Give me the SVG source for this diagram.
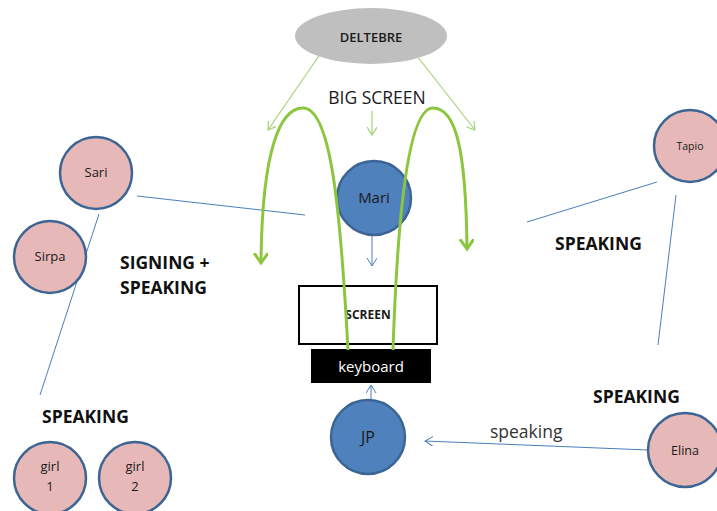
<svg xmlns="http://www.w3.org/2000/svg" width="717" height="511" viewBox="0 0 717 511">
<style>
.pink{fill:#e6b9b8;stroke:#3c6494;stroke-width:2.5}
.blue{fill:#4f81bd;stroke:#3c6494;stroke-width:2.5}
.t{font-family:"Open Sans","Liberation Sans",sans-serif;fill:#1a1a1a;text-anchor:middle}
.lbl{font-family:"Open Sans","Liberation Sans",sans-serif;font-weight:bold;font-size:17.5px;fill:#111}
.thin{stroke:#4a7ebb;stroke-width:1;fill:none}
.lg{stroke:#a6d27a;stroke-width:1.2;fill:none}
.big{stroke:#8cc63f;stroke-width:3;fill:none}
</style>
<defs>
<marker id="ab" markerWidth="12" markerHeight="12" refX="8" refY="5" orient="auto" markerUnits="userSpaceOnUse">
<path d="M0,0 L8,5 L0,10" fill="none" stroke="#4a7ebb" stroke-width="1"/>
</marker>
<marker id="ag" markerWidth="12" markerHeight="12" refX="8" refY="5" orient="auto" markerUnits="userSpaceOnUse">
<path d="M0,0 L8,5 L0,10" fill="none" stroke="#a6d27a" stroke-width="1.2"/>
</marker>
<marker id="aG" markerWidth="16" markerHeight="16" refX="10" refY="7" orient="auto" markerUnits="userSpaceOnUse">
<path d="M0,0 L10,7 L0,14" fill="none" stroke="#8cc63f" stroke-width="3"/>
</marker>
</defs>
<rect width="717" height="511" fill="#fff"/>
<g id="connectors">
<line class="lg" x1="325" y1="47" x2="268" y2="130" marker-end="url(#ag)"/>
<line class="lg" x1="410" y1="47" x2="475" y2="130" marker-end="url(#ag)"/>
<line class="lg" x1="372" y1="111" x2="372" y2="135" marker-end="url(#ag)"/>
<line class="thin" x1="137" y1="196" x2="305" y2="215"/>
<line class="thin" x1="99" y1="214" x2="40" y2="395"/>
<line class="thin" x1="372" y1="236" x2="372" y2="266" marker-end="url(#ab)"/>
<line class="thin" x1="657" y1="182" x2="527" y2="222"/>
<line class="thin" x1="676" y1="195" x2="658" y2="345"/>
<line class="thin" x1="371" y1="400" x2="371" y2="385" marker-end="url(#ab)"/>
<line class="thin" x1="648" y1="450" x2="425" y2="441" marker-end="url(#ab)"/>
</g>
<g id="deltebre">
<ellipse cx="371" cy="36" rx="76" ry="28" fill="#bfbfbf"/>
<text class="t" x="371" y="42" font-size="13" font-weight="600">DELTEBRE</text>
</g>
<g id="bigscreen-label"><text class="t" x="377" y="104" font-size="17.5">BIG SCREEN</text></g>
<g id="sari"><circle class="pink" cx="96" cy="173" r="36"/><text class="t" x="96" y="177" font-size="13">Sari</text></g>
<g id="sirpa"><circle class="pink" cx="50" cy="257" r="36"/><text class="t" x="50" y="261" font-size="13">Sirpa</text></g>
<g id="mari"><circle class="blue" cx="374" cy="198" r="37"/><text class="t" x="374" y="203" font-size="15">Mari</text></g>
<g id="screen"><rect x="299" y="286" width="138" height="58" fill="#fff" stroke="#000" stroke-width="2"/><text class="t" x="368" y="319" font-size="12" font-weight="bold">SCREEN</text></g>
<g id="keyboard"><rect x="311" y="349" width="120" height="34" fill="#000"/><text class="t" x="371" y="372" font-size="15" style="fill:#fff">keyboard</text></g>
<g id="tapio"><circle class="pink" cx="690" cy="146" r="36"/><text class="t" x="690" y="150" font-size="10.5">Tapio</text></g>
<g id="jp"><circle class="blue" cx="368" cy="437" r="37"/><text class="t" x="368" y="443" font-size="16">JP</text></g>
<g id="elina"><circle class="pink" cx="685" cy="450" r="37"/><text class="t" x="685" y="455" font-size="12.5">Elina</text></g>
<g id="girl1"><circle class="pink" cx="50" cy="478" r="36"/><text class="t" x="50" y="471" font-size="13">girl</text><text class="t" x="50" y="491" font-size="13">1</text></g>
<g id="girl2"><circle class="pink" cx="135" cy="478" r="36"/><text class="t" x="135" y="471" font-size="13">girl</text><text class="t" x="135" y="491" font-size="13">2</text></g>
<g id="labels">
<text class="lbl" x="120" y="269">SIGNING +</text>
<text class="lbl" x="120" y="294">SPEAKING</text>
<text class="lbl" x="555" y="250">SPEAKING</text>
<text class="lbl" x="593" y="403">SPEAKING</text>
<text class="lbl" x="42" y="423">SPEAKING</text>
<text x="490" y="438" font-family="Open Sans, Liberation Sans, sans-serif" font-size="17.5" fill="#333">speaking</text>
</g>
<g id="arcs">
<path class="big" d="M348,350 C340,200 330,108 303,108 C280,108 262,150 261,263" marker-end="url(#aG)"/>
<path class="big" d="M393,350 C398,200 410,108 433,108 C456,108 466,150 467,249" marker-end="url(#aG)"/>
</g>
</svg>
